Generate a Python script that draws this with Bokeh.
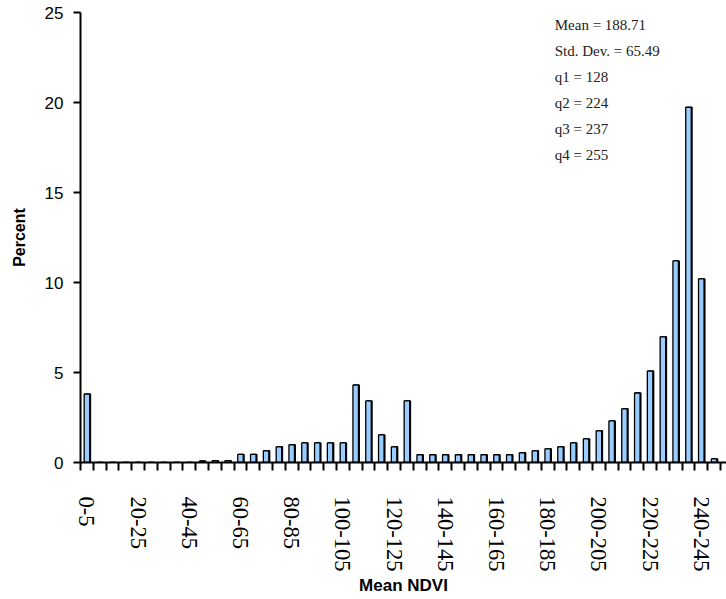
from bokeh.plotting import figure
from bokeh.models import FixedTicker, Label, Range1d
from bokeh.transform import dodge
from bokeh.embed import file_html
from bokeh.resources import INLINE

# Bins of Mean NDVI (width 5): 0-5, 5-10, ..., 245-250
bin_index = list(range(50))
percent = [3.8, 0, 0, 0, 0, 0, 0, 0, 0, 0.08,
           0.1, 0.1, 0.45, 0.45, 0.65, 0.87, 0.98, 1.09, 1.09, 1.09,
           1.09, 4.3, 3.42, 1.53, 0.87, 3.42, 0.43, 0.43, 0.43, 0.43,
           0.43, 0.43, 0.43, 0.43, 0.54, 0.65, 0.76, 0.87, 1.09, 1.31,
           1.76, 2.31, 2.98, 3.86, 5.08, 6.98, 11.2, 19.73, 10.2, 0.2]
label_bins = [0, 4, 8, 12, 16, 20, 24, 28, 32, 36, 40, 44, 48]
tick_labels = ["0-5", "20-25", "40-45", "60-65", "80-85", "100-105", "120-125",
               "140-145", "160-165", "180-185", "200-205", "220-225", "240-245"]
y_ticks = [0, 5, 10, 15, 20, 25]
stats_text = ["Mean = 188.71", "Std. Dev. = 65.49", "q1 = 128", "q2 = 224",
              "q3 = 237", "q4 = 255"]

p = figure(width=726, height=599,
           x_range=Range1d(-0.5, 49.97), y_range=Range1d(0, 25),
           output_backend="svg", toolbar_location=None,
           min_border_left=80, min_border_right=0,
           min_border_top=12, min_border_bottom=137)
p.outline_line_color = None
p.xgrid.visible = False
p.ygrid.visible = False
p.background_fill_color = "white"
p.border_fill_color = "white"

src = {"x": bin_index, "top": percent}
# dark shadow edge on the right side of each bar
p.vbar(x=dodge("x", 0.06, range=p.x_range), top="top", width=0.43, bottom=0,
       source=src, fill_color="black", line_color="black", line_width=1.5)
p.vbar(x="x", top="top", width=0.43, bottom=0, source=src,
       fill_color="#99CCFF", line_color="black", line_width=1.3)

# x axis
xa = p.xaxis[0]
boundaries = [b - 0.5 for b in bin_index] + [49.5]
xa.ticker = FixedTicker(ticks=label_bins, minor_ticks=boundaries)
xa.major_label_overrides = {b: t for b, t in zip(label_bins, tick_labels)}
xa.major_label_orientation = "vertical"
xa.major_tick_out = 0
xa.major_tick_in = 0
xa.minor_tick_out = 8
xa.minor_tick_in = 0
xa.minor_tick_line_width = 2
xa.minor_tick_line_color = "black"
xa.axis_line_width = 2
xa.axis_line_color = "black"
xa.major_label_standoff = 26
xa.major_label_text_font = "Liberation Serif"
xa.major_label_text_font_size = "22.5px"
xa.major_label_text_color = "black"
xa.axis_label = "Mean NDVI"
xa.axis_label_text_font = "Liberation Sans"
xa.axis_label_text_font_style = "bold"
xa.axis_label_text_font_size = "17px"
xa.axis_label_text_color = "black"
xa.axis_label_standoff = 2

# y axis
ya = p.yaxis[0]
ya.ticker = FixedTicker(ticks=y_ticks)
ya.major_tick_out = 7
ya.major_tick_in = 0
ya.minor_tick_out = 0
ya.minor_tick_in = 0
ya.major_tick_line_width = 2
ya.axis_line_width = 2
ya.axis_line_color = "black"
ya.major_label_standoff = 10
ya.major_label_text_font = "Liberation Sans"
ya.major_label_text_font_size = "17px"
ya.major_label_text_color = "black"
ya.axis_label = "Percent"
ya.axis_label_text_font = "Liberation Sans"
ya.axis_label_text_font_style = "bold"
ya.axis_label_text_font_size = "16px"
ya.axis_label_text_color = "black"
ya.axis_label_standoff = 14

# statistics block (top-right)
for i, s in enumerate(stats_text):
    p.add_layout(Label(x=36.55, y=24.3 - i * 1.444, text=s,
                       text_font="Liberation Serif", text_font_size="15px",
                       text_color="#222222", text_baseline="middle",
                       text_align="left"))

open("out.html", "w").write(file_html(p, INLINE))
